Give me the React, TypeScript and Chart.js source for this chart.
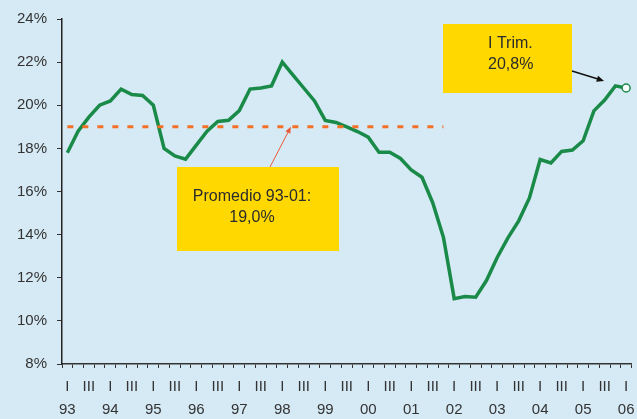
import React, { useEffect, useRef } from "react";
import { Chart, registerables } from "chart.js";

Chart.register(...registerables);

// Quarterly series, 1993 Q1 through 2006 Q1 (percent)
const YEARS = ["93", "94", "95", "96", "97", "98", "99", "00", "01", "02", "03", "04", "05", "06"];
const QUARTER_TICKS = ["I", "", "III", ""];
const RATE = [
  17.8, 18.8, 19.45, 20.0, 20.2, 20.75, 20.5, 20.45,
  20.0, 18.0, 17.65, 17.5, 18.15, 18.8, 19.25, 19.3,
  19.75, 20.75, 20.8, 20.9, 22.0, 21.4, 20.8, 20.2,
  19.3, 19.2, 19.0, 18.78, 18.52, 17.82, 17.82, 17.53,
  17.0, 16.66, 15.48, 13.87, 11.03, 11.13, 11.1, 11.87,
  12.94, 13.85, 14.64, 15.7, 17.48, 17.32, 17.86, 17.92,
  18.35, 19.74, 20.24, 20.9, 20.8,
];
const AVERAGE = 19.0; // mean for 1993-2001
const AVERAGE_QUARTERS = 36; // 93 Q1 .. 01 Q4
const Y_MIN = 8;
const Y_MAX = 24;
const Y_STEP = 2;

const QUARTERS = YEARS.flatMap((yr) => ["I", "II", "III", "IV"].map((q) => `${q}-${yr}`)).slice(0, RATE.length);
const AVERAGE_LINE = RATE.map((_, i) => (i < AVERAGE_QUARTERS ? AVERAGE : null));

const BG = "rgb(214,234,245)";
const GREEN = "rgb(26,138,72)";
const ORANGE = "rgb(243,112,38)";
const YELLOW = "rgb(255,216,0)";
const TEXT = "#2b2b2b";
const FONT = "'Liberation Sans', Arial, Helvetica, sans-serif";

function arrow(ctx: CanvasRenderingContext2D, x1: number, y1: number, x2: number, y2: number, color: string, width: number, head: number) {
  const ang = Math.atan2(y2 - y1, x2 - x1);
  ctx.save();
  ctx.strokeStyle = color;
  ctx.fillStyle = color;
  ctx.lineWidth = width;
  ctx.beginPath();
  ctx.moveTo(x1, y1);
  ctx.lineTo(x2 - Math.cos(ang) * head * 0.7, y2 - Math.sin(ang) * head * 0.7);
  ctx.stroke();
  ctx.beginPath();
  ctx.moveTo(x2, y2);
  ctx.lineTo(x2 - head * Math.cos(ang - 0.4), y2 - head * Math.sin(ang - 0.4));
  ctx.lineTo(x2 - head * Math.cos(ang + 0.4), y2 - head * Math.sin(ang + 0.4));
  ctx.closePath();
  ctx.fill();
  ctx.restore();
}

const callouts = {
  id: "callouts",
  afterDatasetsDraw(chart: any) {
    const { ctx } = chart;
    const ys = chart.scales.y;
    const xs = chart.scales.x;
    ctx.save();
    ctx.font = `16px ${FONT}`;
    ctx.textBaseline = "middle";

    // Average callout
    ctx.fillStyle = YELLOW;
    ctx.fillRect(177, 167, 162, 84);
    ctx.fillStyle = TEXT;
    ctx.textAlign = "center";
    ctx.fillText("Promedio 93-01:", 252, 197);
    ctx.fillText("19,0%", 252, 218);
    arrow(ctx, 270, 167, xs.getPixelForValue(20.8), ys.getPixelForValue(AVERAGE), "rgb(232,90,55)", 1, 7);

    // Latest quarter callout
    ctx.fillStyle = YELLOW;
    ctx.fillRect(443, 24, 129, 69);
    ctx.fillStyle = TEXT;
    ctx.textAlign = "left";
    ctx.fillText("I Trim.", 488, 44);
    ctx.fillText("20,8%", 488, 65);
    const last = RATE.length - 1;
    arrow(ctx, 572, 71, xs.getPixelForValue(last) - 22, ys.getPixelForValue(RATE[last]) - 7, "#111", 1.5, 8);
    ctx.restore();
  },
};

export default function App() {
  const ref = useRef<HTMLCanvasElement>(null);

  useEffect(() => {
    if (!ref.current) return;
    const last = RATE.length - 1;
    const chart = new Chart(ref.current, {
      type: "line",
      data: {
        labels: QUARTERS,
        datasets: [
          {
            data: AVERAGE_LINE,
            borderColor: ORANGE,
            borderWidth: 3,
            borderDash: [6, 9],
            pointRadius: 0,
            fill: false,
          },
          {
            data: RATE,
            borderColor: GREEN,
            borderWidth: 3.5,
            tension: 0,
            fill: false,
            pointRadius: (c: any) => (c.dataIndex === last ? 4 : 0),
            pointBackgroundColor: "#fff",
            pointBorderColor: GREEN,
            pointBorderWidth: 1.5,
          },
        ],
      },
      options: {
        responsive: false,
        animation: false,
        layout: { padding: { top: 17, right: 4, left: 0, bottom: 0 } },
        plugins: { legend: { display: false }, tooltip: { enabled: false } },
        scales: {
          x: {
            offset: true,
            grid: { offset: true, drawOnChartArea: false, drawTicks: true, tickLength: 4, color: "#333", lineWidth: 1 },
            border: { color: "#333", width: 1.5 },
            afterFit: (s: any) => {
              s.height = 55;
              s.paddingLeft = 0;
              s.paddingRight = 0;
            },
            ticks: {
              autoSkip: false,
              maxRotation: 0,
              minRotation: 0,
              padding: 8,
              color: "#333",
              font: { family: FONT, size: 15, lineHeight: 1.5 },
              callback: (_v: any, i: number) => {
                const q = i % 4;
                const mark = QUARTER_TICKS[q];
                if (q === 0) return [mark, YEARS[i / 4]];
                if (mark) return [mark, ""];
                return "";
              },
            },
          },
          y: {
            min: Y_MIN,
            max: Y_MAX,
            grid: { drawOnChartArea: false, drawTicks: true, tickLength: 5, color: "#333" },
            border: { color: "#222", width: 1.5 },
            afterFit: (s: any) => {
              s.width = 62;
            },
            ticks: {
              stepSize: Y_STEP,
              padding: 10,
              color: "#333",
              font: { family: FONT, size: 15 },
              callback: (v: any) => `${v}%`,
            },
          },
        },
      },
      plugins: [callouts],
    });
    return () => chart.destroy();
  }, []);

  return (
    <div style={{ position: "fixed", left: 0, top: 0, width: 637, height: 419, background: BG }}>
      <canvas ref={ref} width={637} height={419} style={{ display: "block" }} />
    </div>
  );
}
